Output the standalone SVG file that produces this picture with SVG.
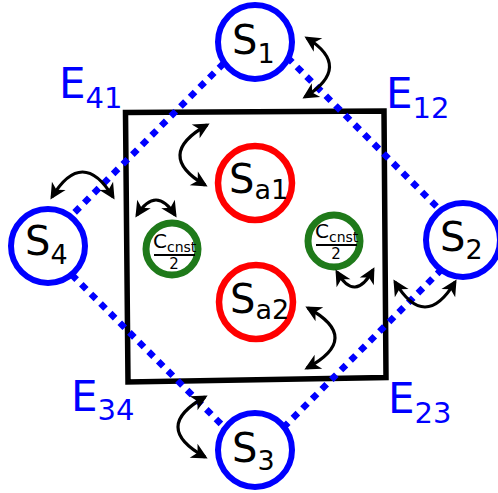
<svg xmlns="http://www.w3.org/2000/svg" width="498" height="493" viewBox="0 0 498 493">
<style>
text{font-family:"DejaVu Sans","Liberation Sans",sans-serif;fill:#000}
.blue{fill:#fff;stroke:#0000ff;stroke-width:6}
.red{fill:#fff;stroke:#ff0000;stroke-width:6.5}
.green{fill:#fff;stroke:#1f7a1a;stroke-width:7}
.lbl{font-size:40px}
.sub{font-size:27px}
.e{font-size:42px;fill:#0000ff}
.es{font-size:29px;fill:#0000ff}
.frac{stroke:#000;stroke-width:2}
.arr{fill:none;stroke:#000;stroke-width:3.2;marker-start:url(#ah);marker-end:url(#ah)}
</style>
<defs>
<marker id="ah" viewBox="-16 -9 20 18" refX="0" refY="0" markerWidth="20" markerHeight="18" markerUnits="userSpaceOnUse" orient="auto-start-reverse">
<path d="M3,0 L-13,-8 L-8.5,0 L-13,8 Z" fill="#000"/>
</marker>
</defs>
<rect width="498" height="493" fill="#fff"/>
<g id="square"><path d="M125.5,112.5 L384,111 L386,377.5 L128,382 Z" fill="none" stroke="#000" stroke-width="5.5" stroke-linejoin="miter"/></g>
<g id="connectors">
<path d="M258.5,28.5 L470.5,240.5 L254,457 L42,245 Z" fill="none" stroke="#0000ff" stroke-width="6.5" stroke-dasharray="7 6.6"/>
</g>
<g id="S1"><circle class="blue" cx="255" cy="42" r="37"/><text class="lbl" x="232" y="54">S<tspan class="sub" dy="9">1</tspan></text></g>
<g id="S2"><circle class="blue" cx="463" cy="240" r="37"/><text class="lbl" x="440" y="251">S<tspan class="sub" dy="8">2</tspan></text></g>
<g id="S3"><circle class="blue" cx="255" cy="450" r="37"/><text class="lbl" x="232" y="462">S<tspan class="sub" dy="8">3</tspan></text></g>
<g id="S4"><circle class="blue" cx="48" cy="246" r="37"/><text class="lbl" x="25" y="255">S<tspan class="sub" dy="9">4</tspan></text></g>
<g id="Sa1"><circle class="red" cx="255" cy="183" r="37"/><text class="lbl" x="229" y="193">S<tspan class="sub" font-size="25" dy="6">a1</tspan></text></g>
<g id="Sa2"><circle class="red" cx="256" cy="302" r="37"/><text class="lbl" x="230" y="313">S<tspan class="sub" font-size="25" dy="6">a2</tspan></text></g>
<g id="C1"><circle class="green" cx="172" cy="249" r="26"/>
<text x="153" y="248" font-size="20">C<tspan font-size="14" dy="4">cnst</tspan></text>
<line class="frac" x1="154" y1="255" x2="195" y2="255"/>
<text x="174" y="269" font-size="15" text-anchor="middle">2</text></g>
<g id="C2"><circle class="green" cx="334" cy="241" r="26"/>
<text x="315" y="238" font-size="20">C<tspan font-size="14" dy="4">cnst</tspan></text>
<line class="frac" x1="316" y1="245" x2="357" y2="245"/>
<text x="336" y="259" font-size="15" text-anchor="middle">2</text></g>
<g id="E41"><text class="e" x="59" y="98">E<tspan class="es" dy="10">41</tspan></text></g>
<g id="E12"><text class="e" x="386" y="108">E<tspan class="es" dy="10">12</tspan></text></g>
<g id="E23"><text class="e" x="388" y="413">E<tspan class="es" dy="10">23</tspan></text></g>
<g id="E34"><text class="e" x="71" y="411">E<tspan class="es" dy="9">34</tspan></text></g>
<g id="arrows">
<path class="arr" d="M307,38 Q353,67 305,97"/>
<path class="arr" d="M207,125 Q154,155 205,185"/>
<path class="arr" d="M137,215 Q156,185 175,215"/>
<path class="arr" d="M52,197 Q82.5,147 113,197"/>
<path class="arr" d="M337,272 Q355,303 373,270"/>
<path class="arr" d="M395,282 Q425,332 455,282"/>
<path class="arr" d="M308,308 Q362.5,338 307,368"/>
<path class="arr" d="M205,397 Q151,427 205,457"/>
</g>
</svg>
